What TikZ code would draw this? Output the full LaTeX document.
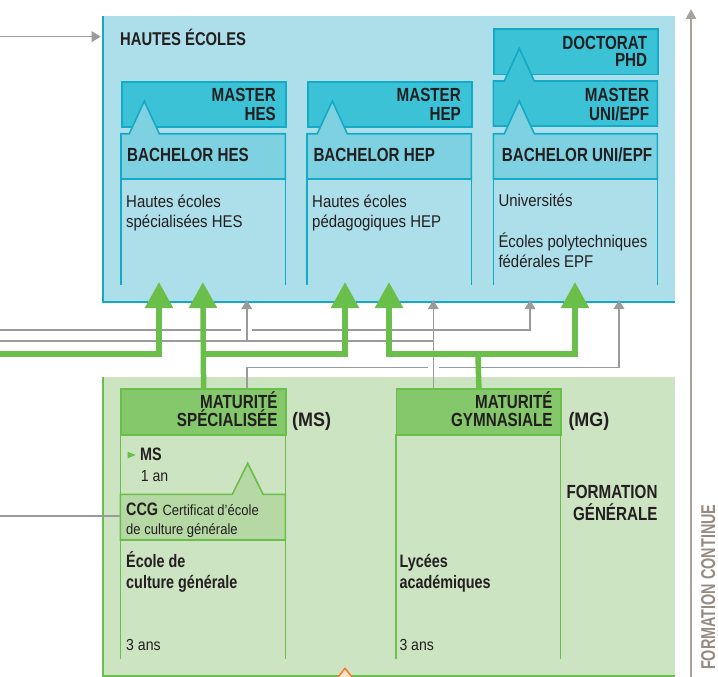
\documentclass[tikz,border=0pt]{standalone}
\usepackage{fontspec}
\setmainfont{Liberation Sans}
\newfontfamily\CondB{Liberation Sans}[FakeStretch=0.8]
\newfontfamily\CondP{Liberation Sans}[FakeStretch=0.92]
\newfontfamily\CondR{Liberation Sans}[FakeStretch=0.88]
\newfontfamily\CondV{Liberation Sans}[FakeStretch=0.72]
\usetikzlibrary{arrows.meta}
\definecolor{bluebg}{HTML}{ADDFEA}
\definecolor{cyanline}{HTML}{14AAC7}
\definecolor{masterfill}{HTML}{3BC2D6}
\definecolor{bachfill}{HTML}{7ED1E0}
\definecolor{greenbg}{HTML}{CCE4C2}
\definecolor{greenc}{HTML}{6ABF4B}
\definecolor{greenhead}{HTML}{85C76B}
\definecolor{ccgfill}{HTML}{B5D8A4}
\definecolor{grayc}{HTML}{9A9A9C}
\definecolor{contline}{HTML}{ACA199}
\definecolor{conttext}{HTML}{978A81}
\definecolor{textc}{HTML}{231F20}
\definecolor{orangec}{HTML}{F47B2A}
\definecolor{peach}{HTML}{FBE2CC}
\newcommand\HeadFont{\CondB\bfseries\fontsize{19}{20}\selectfont}
\newcommand\ParFont{\CondP\bfseries\fontsize{19.5}{20}\selectfont}
\newcommand\TitleFont{\CondB\bfseries\fontsize{18.5}{20}\selectfont}
\newcommand\MidFont{\CondB\bfseries\fontsize{18}{20}\selectfont}
\newcommand\RegFont{\CondR\fontsize{17}{20}\selectfont}
\newcommand\DurFont{\CondR\fontsize{16}{20}\selectfont}
\newcommand\SmlFont{\CondR\fontsize{14.8}{16}\selectfont}
\newcommand\VertFont{\CondV\bfseries\fontsize{20}{20}\selectfont}
\begin{document}
\begin{tikzpicture}[x=1pt,y=-1pt,
  hd/.style={font=\HeadFont, text=textc, inner sep=0pt},
  pa/.style={font=\ParFont, text=textc, inner sep=0pt},
  md/.style={font=\MidFont, text=textc, inner sep=0pt},
  rg/.style={font=\RegFont, text=textc, inner sep=0pt},
  du/.style={font=\DurFont, text=textc, inner sep=0pt},
  sm/.style={font=\SmlFont, text=textc, inner sep=0pt},
  bbox/.style={draw=cyanline, line width=1.6pt},
  gbox/.style={draw=greenc, line width=1.6pt},
  gline/.style={draw=grayc, line width=1.6pt},
  garr/.style={gline, -{Triangle[width=10.5pt,length=9pt]}},
  grn/.style={draw=greenc, line width=5.5pt},
  grnarr/.style={grn, -{Triangle[width=27pt,length=26pt]}},
  grnarrs/.style={grn, {Triangle[width=27pt,length=26pt]}-{Triangle[width=27pt,length=26pt]}}
]
\useasboundingbox (0,0) rectangle (718,677);

% ---------- Hautes ecoles panel ----------
\fill[bluebg] (102,16) rectangle (675,302);
\draw[cyanline, line width=2pt] (102.7,16) -- (102.7,301.7) -- (675,301.7);
\node[font=\TitleFont, text=textc, inner sep=0pt, anchor=base west] (he) at (120,46) {HAUTES ÉCOLES};

% column HES
\node[bbox, fill=masterfill, minimum width=164.3pt, minimum height=45pt, inner sep=0pt, anchor=north west] (mhes) at (121,81) {};
\draw[bbox, fill=bachfill] (121,179) -- (121,133.7) -- (129.3,133.7) -- (144.3,101) -- (159.3,133.7) -- (285.3,133.7) -- (285.3,179) -- cycle;
\draw[bbox] (121,179) -- (121,285) (285.3,179) -- (285.3,285);
% column HEP
\node[bbox, fill=masterfill, minimum width=164.3pt, minimum height=45pt, inner sep=0pt, anchor=north west] (mhep) at (307,81) {};
\draw[bbox, fill=bachfill] (307,179) -- (307,133.7) -- (317.3,133.7) -- (332.3,101) -- (347.3,133.7) -- (471.3,133.7) -- (471.3,179) -- cycle;
\draw[bbox] (307,179) -- (307,285) (471.3,179) -- (471.3,285);
% column UNI/EPF
\node[bbox, fill=masterfill, minimum width=164pt, minimum height=45.4pt, inner sep=0pt, anchor=north west] (doc) at (493.3,28.3) {};
\draw[bbox, fill=masterfill] (493.3,126) -- (493.3,81) -- (504.3,81) -- (519.3,48.3) -- (534.3,81) -- (657.3,81) -- (657.3,126) -- cycle;
\draw[bbox, fill=bachfill] (493.3,179) -- (493.3,133.7) -- (504.3,133.7) -- (519.3,101) -- (534.3,133.7) -- (657.3,133.7) -- (657.3,179) -- cycle;
\draw[bbox] (493.3,179) -- (493.3,285) (657.3,179) -- (657.3,285);

\node[hd, anchor=base east] (m1a) at (276,101.7) {MASTER};
\node[hd, anchor=base east] (m1b) at (276,120.7) {HES};
\node[hd, anchor=base east] (m2a) at (461,101.7) {MASTER};
\node[hd, anchor=base east] (m2b) at (461,120.7) {HEP};
\node[hd, anchor=base east] (d3a) at (647.3,49.3) {DOCTORAT};
\node[hd, anchor=base east] (d3b) at (647.3,66.7) {PHD};
\node[hd, anchor=base east] (m3a) at (649.3,101.7) {MASTER};
\node[hd, anchor=base east] (m3b) at (649.3,120.7) {UNI/EPF};
\node[hd, anchor=base west] (b1) at (127,161.3) {BACHELOR HES};
\node[hd, anchor=base west] (b2) at (313.3,161.3) {BACHELOR HEP};
\node[hd, anchor=base west] (b3) at (501.7,161.3) {BACHELOR UNI/EPF};
\node[rg, anchor=base west] (t1a) at (126,207.3) {Hautes écoles};
\node[rg, anchor=base west] (t1b) at (126,227) {spécialisées HES};
\node[rg, anchor=base west] (t2a) at (312,207.3) {Hautes écoles};
\node[rg, anchor=base west] (t2b) at (312,227) {pédagogiques HEP};
\node[rg, anchor=base west] (t3a) at (498.3,206.7) {Universités};
\node[rg, anchor=base west] (t3b) at (498.3,247.7) {Écoles polytechniques};
\node[rg, anchor=base west] (t3c) at (498.3,267.3) {fédérales EPF};

% ---------- Formation generale panel ----------
\fill[greenbg] (102,377) rectangle (675,677);
\draw[greenc, line width=2pt] (102.7,377) -- (102.7,675.7) -- (675,675.7);
\fill[peach, draw=orangec, line width=1.5pt] (336.5,679) -- (345,668.3) -- (353.5,679);

% MS column
\node[gbox, fill=greenhead, minimum width=165pt, minimum height=46.3pt, inner sep=0pt, anchor=north west] (msh) at (120.3,388) {};
\draw[gbox] (120.3,434.3) -- (120.3,659.3) (285.3,434.3) -- (285.3,659.3);
\draw[gbox, fill=ccgfill] (120.3,540) -- (120.3,494.3) -- (232.3,494.3) -- (247.7,463.3) -- (263.1,494.3) -- (285.3,494.3) -- (285.3,540) -- cycle;
% MG column
\node[gbox, fill=greenhead, minimum width=164.5pt, minimum height=46.3pt, inner sep=0pt, anchor=north west] (mgh) at (395.8,388) {};
\draw[gbox] (395.8,434.3) -- (395.8,659.3) (560.3,434.3) -- (560.3,659.3);

\node[hd, anchor=base east] (ms1) at (277.7,408.3) {MATURITÉ};
\node[hd, anchor=base east] (ms2) at (277.7,426) {SPÉCIALISÉE};
\node[pa, anchor=base west] (ms3) at (292,426) {(MS)};
\node[hd, anchor=base east] (mg1) at (552.7,408.3) {MATURITÉ};
\node[hd, anchor=base east] (mg2) at (552.7,426) {GYMNASIALE};
\node[pa, anchor=base west] (mg3) at (568.3,426) {(MG)};
\fill[greenc] (127.7,451.7) -- (135.7,455) -- (127.7,458.3) -- cycle;
\node[md, anchor=base west] (msy) at (140,460.7) {MS};
\node[du, anchor=base west] (msd) at (140.7,481.7) {1 an};
\node[md, anchor=base west] (ccg) at (126,515) {CCG};
\node[sm, anchor=base west] (ccga) at (162.3,515) {Certificat d’école};
\node[sm, anchor=base west] (ccgb) at (126,534.3) {de culture générale};
\node[md, anchor=base west] (ec1) at (126,567.7) {École de};
\node[md, anchor=base west] (ec2) at (126,588.3) {culture générale};
\node[du, anchor=base west] (ec3) at (126,650.7) {3 ans};
\node[md, anchor=base west] (ly1) at (399.3,567.7) {Lycées};
\node[md, anchor=base west] (ly2) at (399.3,588.3) {académiques};
\node[du, anchor=base west] (ly3) at (399.3,650.7) {3 ans};
\node[hd, anchor=base east] (fg1) at (657.7,498.3) {FORMATION};
\node[hd, anchor=base east] (fg2) at (657.7,520) {GÉNÉRALE};

% ---------- Formation continue ----------
\coordinate (fcBot) at (691,677);
\coordinate (fcTop) at (691,9);
\draw[contline, line width=2.2pt, -{Triangle[width=10pt,length=10pt]}] (fcBot) -- (fcTop);
\node[font=\VertFont, text=conttext, inner sep=0pt, rotate=90, anchor=base west] (fc) at (715,670) {FORMATION CONTINUE};

% ---------- gray connectors ----------
\coordinate (inTop) at (0,36.7);
\coordinate (heIn) at (100.7,36.7);
\coordinate (L330) at (0,330);
\coordinate (L341) at (0,341);
\coordinate (L354) at (0,354);
\coordinate (L516) at (0,516);
\coordinate (ccgL) at (119.5,516);
\coordinate (tHES) at (246.7,300);
\coordinate (tHEP) at (433.3,300);
\coordinate (tUNIa) at (530,300);
\coordinate (tUNIb) at (619,300);
\coordinate (gapC1) at (240.7,330);
\coordinate (gapC2) at (252.3,330);
\coordinate (gapB1) at (428.3,367.3);
\coordinate (gapB2) at (439,367.3);

\draw[garr] (inTop) -- (heIn);
\draw[gline] (L516) -- (ccgL);
\draw[gline] (L330) -- (gapC1);
\draw[garr] (gapC2) -| (tUNIa);
\draw[gline] (msh.north -| tHES) |- (gapB1);
\draw[garr] (gapB2) -| (tUNIb);
\draw[gline] (L341) -- (tHEP |- L341);
\draw[garr] (tHES |- L341) -- (tHES);
\draw[garr] (mgh.north -| tHEP) -- (tHEP);

% ---------- green connectors ----------
\coordinate (gHES1) at (159,282);
\coordinate (gHES2) at (202.8,282);
\coordinate (gHEP1) at (345,282);
\coordinate (gHEP2) at (389,282);
\coordinate (gUNI) at (575,282);
\coordinate (msJ) at (202.8,354);
\coordinate (mgJ) at (478,354);
\draw[grnarr] (L354) -| (gHES1);
\draw[grnarr] (msh.north) -- (gHES2);
\draw[grnarr] (msJ) -| (gHEP1);
\draw[grn] (mgh.north) -- (mgJ);
\draw[grnarrs] (gHEP2) |- (mgJ) -| (gUNI);
\end{tikzpicture}
\end{document}
